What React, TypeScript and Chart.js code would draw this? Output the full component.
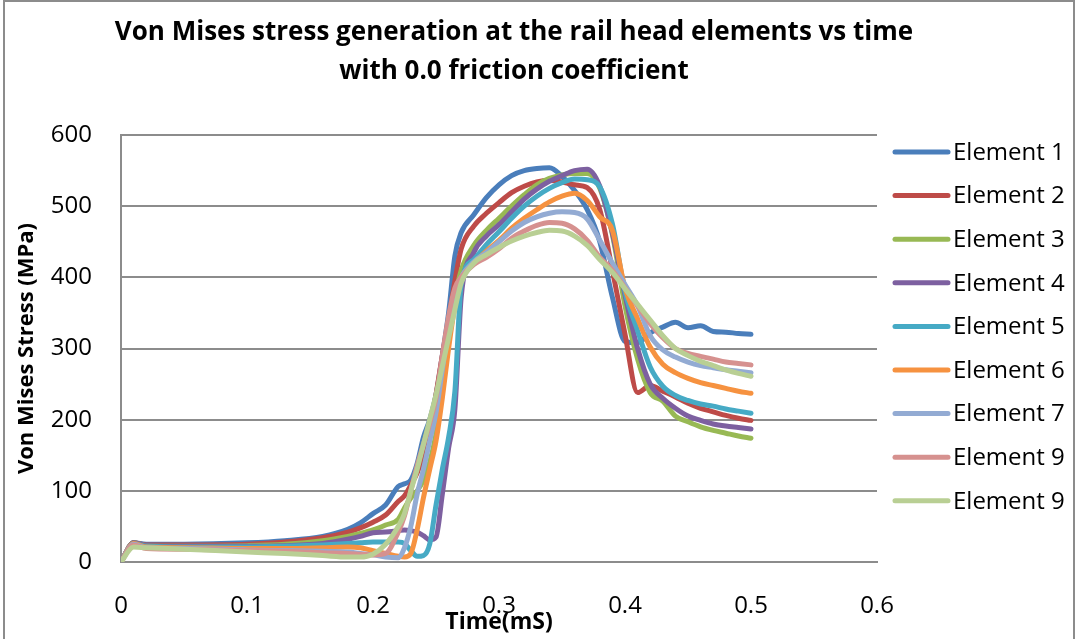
import { useEffect, useRef } from "react";
import { Chart, registerables } from "chart.js";

Chart.register(...registerables);

// ---- data ----
const time = [0, 0.01, 0.02, 0.05, 0.1, 0.13, 0.16, 0.18, 0.19, 0.2,
  0.21, 0.22, 0.225, 0.23, 0.235, 0.24, 0.245, 0.25, 0.255, 0.26, 0.265, 0.27,
  0.28, 0.29, 0.3, 0.31, 0.32, 0.33, 0.34, 0.35, 0.36, 0.37, 0.38, 0.39, 0.4,
  0.41, 0.42, 0.43, 0.44, 0.45, 0.46, 0.47, 0.48, 0.49, 0.5];

const element1 = [0, 27, 25, 25, 27, 30, 36, 46, 55, 68,
  80, 106, 110, 115, 138, 175, 200, 235, 290, 350, 430, 463,
  488, 512, 530, 543, 550, 553, 554, 542, 522, 495, 450, 372, 310, 308, 322, 330, 337, 329, 332, 324, 323, 321, 320];
const element2 = [0, 27, 24, 24, 25, 28, 34, 42, 48, 56,
  66, 85, 93, 108, 125, 150, 185, 235, 290, 340, 395, 440,
  472, 490, 505, 519, 528, 534, 536, 534, 530, 526, 495, 410, 320, 238, 248, 240, 232, 223, 216, 211, 206, 202, 199];
const element3 = [0, 27, 23, 22, 23, 25, 30, 36, 40, 45,
  52, 60, 76, 90, 100, 115, 140, 180, 240, 310, 370, 410,
  445, 466, 483, 500, 516, 530, 539, 544, 546, 546, 525, 460, 360, 285, 238, 226, 205, 197, 190, 185, 181, 177, 174];
const element4 = [0, 27, 23, 22, 22, 23, 26, 32, 36, 41,
  42, 44, 45, 44, 42, 37, 31, 35, 95, 160, 215, 372,
  435, 458, 474, 492, 510, 524, 535, 543, 550, 552, 528, 462, 375, 300, 250, 230, 216, 205, 199, 194, 191, 189, 187];
const element5 = [0, 26, 22, 21, 21, 22, 24, 26, 27, 28,
  28, 28, 26, 16, 8, 9, 25, 80, 130, 175, 240, 390,
  425, 446, 464, 483, 500, 514, 525, 533, 538, 537, 527, 475, 380, 325, 274, 247, 234, 227, 222, 219, 215, 212, 209];
const element6 = [0, 26, 21, 20, 19, 19, 20, 21, 20, 16,
  12, 8, 7, 12, 45, 90, 130, 170, 230, 300, 360, 398,
  420, 437, 452, 469, 483, 495, 506, 514, 518, 508, 485, 466, 385, 342, 302, 278, 266, 258, 252, 248, 244, 240, 237];
const element7 = [0, 25, 20, 19, 17, 16, 15, 14, 12, 10,
  7, 6, 20, 50, 95, 130, 170, 210, 270, 330, 375, 400,
  422, 435, 450, 465, 477, 485, 490, 492, 491, 482, 452, 420, 390, 360, 318, 298, 288, 281, 276, 273, 270, 268, 266];
const element9a = [0, 24, 19, 18, 16, 15, 13, 12, 11, 10,
  12, 42, 65, 100, 135, 165, 195, 230, 290, 345, 385, 400,
  418, 428, 440, 455, 465, 473, 477, 476, 468, 452, 428, 410, 385, 360, 335, 315, 300, 293, 289, 285, 281, 279, 277];
const element9b = [0, 21, 20, 18, 14, 12, 9, 7, 7, 11,
  25, 50, 68, 100, 130, 165, 200, 235, 275, 315, 355, 392,
  420, 432, 442, 451, 458, 463, 466, 465, 458, 445, 425, 407, 384, 362, 340, 318, 300, 290, 282, 276, 270, 265, 261];

const seriesNames = ["Element 1", "Element 2", "Element 3", "Element 4", "Element 5",
  "Element 6", "Element 7", "Element 9", "Element 9"];
const seriesColors = ["#4A7EBB", "#BE4B48", "#98B954", "#7D60A0", "#46AAC5",
  "#F69240", "#93ABD3", "#D6918F", "#B9CF94"];
const titleLines = ["Von Mises stress generation at the rail head elements vs time",
  "with 0.0 friction coefficient"];
const xTitle = "Time(mS)";
const yTitle = "Von Mises Stress (MPa)";

const REG = "'Open Sans', sans-serif";
const BOLD = "'Open Sans', sans-serif";

export default function App() {
  const ref = useRef<HTMLCanvasElement>(null);

  useEffect(() => {
    const series = [element1, element2, element3, element4, element5,
      element6, element7, element9a, element9b];

    const decor = {
      id: "decor",
      beforeDraw(chart: any) {
        const ctx = chart.ctx;
        ctx.save();
        ctx.fillStyle = "#ffffff";
        ctx.fillRect(0, 0, chart.width, chart.height);
        ctx.restore();
      },
      afterDraw(chart: any) {
        const ctx = chart.ctx;
        ctx.save();
        // outer frame
        ctx.strokeStyle = "#8c8c8c";
        ctx.lineWidth = 2;
        ctx.strokeRect(4, 1, 1070, 700);
        // title
        ctx.fillStyle = "#000";
        ctx.textAlign = "center";
        ctx.textBaseline = "middle";
        ctx.font = `bold 26px ${BOLD}`;
        ctx.fillText(titleLines[0], 514, 33);
        ctx.fillText(titleLines[1], 514, 72);
        // legend
        ctx.textAlign = "left";
        ctx.font = `24px ${REG}`;
        ctx.lineCap = "round";
        for (let i = 0; i < seriesNames.length; i++) {
          const y = 152 + i * 43.6;
          ctx.strokeStyle = seriesColors[i];
          ctx.lineWidth = 5;
          ctx.beginPath();
          ctx.moveTo(895, y);
          ctx.lineTo(948, y);
          ctx.stroke();
          ctx.fillStyle = "#000";
          ctx.fillText(seriesNames[i], 953, y + 1);
        }
        ctx.restore();
      },
    };

    const chart = new Chart(ref.current as HTMLCanvasElement, {
      type: "line",
      data: {
        datasets: series.map((vals, i) => ({
          label: seriesNames[i],
          data: time.map((t, j) => ({ x: t, y: vals[j] })),
          borderColor: seriesColors[i],
          backgroundColor: seriesColors[i],
          borderWidth: 5,
          pointRadius: 0,
          cubicInterpolationMode: "monotone" as const,
          borderCapStyle: "round" as const,
          borderJoinStyle: "round" as const,
          order: series.length - i,
        })),
      },
      options: {
        responsive: false,
        animation: false,
        layout: { padding: { top: 135, right: 201, left: 0, bottom: 0 } },
        plugins: {
          legend: { display: false },
          title: { display: false },
          tooltip: { enabled: false },
        },
        scales: {
          x: {
            type: "linear",
            min: 0,
            max: 0.6,
            ticks: {
              stepSize: 0.1,
              padding: 30,
              color: "#000",
              maxRotation: 0,
              autoSkip: false,
              font: { family: REG, size: 24 },
            },
            grid: { display: false, drawTicks: false },
            border: { display: true, color: "#8c8c8c", width: 2 },
            title: {
              display: true,
              text: xTitle,
              color: "#000",
              font: { family: BOLD, size: 23, weight: "bold" },
              padding: { top: 0, bottom: 3 },
            },
            afterFit: (s: any) => { s.height = 77; },
          },
          y: {
            min: 0,
            max: 600,
            ticks: {
              stepSize: 100,
              padding: 29,
              color: "#000",
              font: { family: REG, size: 24 },
            },
            grid: { color: "#8c8c8c", lineWidth: 2, drawTicks: false },
            border: { display: true, color: "#8c8c8c", width: 2 },
            title: {
              display: true,
              text: yTitle,
              color: "#000",
              font: { family: BOLD, size: 22, weight: "bold" },
              padding: { top: 14, bottom: 0 },
            },
            afterFit: (s: any) => { s.width = 121; },
          },
        },
      },
      plugins: [decor],
    });
    return () => chart.destroy();
  }, []);

  return (
    <div style={{ position: "absolute", left: 0, top: 0, width: 1078, height: 639, background: "#fff" }}>
      <canvas ref={ref} width={1078} height={639} style={{ display: "block" }} />
    </div>
  );
}
